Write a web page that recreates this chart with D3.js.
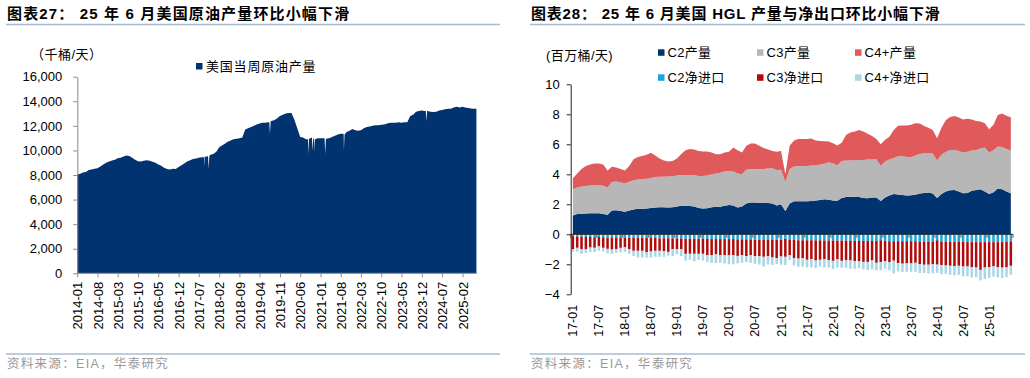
<!DOCTYPE html>
<html><head><meta charset="utf-8">
<script src="https://cdn.jsdelivr.net/npm/d3@7"></script>
<style>
body{margin:0;background:#fff;}
svg{display:block;font-family:"Liberation Sans",Arial,"Noto Sans CJK SC",sans-serif;}
</style></head><body>
<svg id="c" width="1030" height="378"></svg>
<script>
// ---------------- Chart 27 data: US weekly crude output (kb/d) ----------------
const crudeStartMonth = "2014-01";
const crudeMonthly = [
 8050,8100,8200,8250,8400,8450,8500,8550,8700,8850,9000,9100,
 9180,9250,9370,9400,9500,9580,9550,9400,9250,9120,9100,9150,
 9200,9150,9080,9000,8850,8750,8600,8480,8450,8500,8480,8650,
 8800,8960,9100,9200,9300,9350,9400,9450,9500,9520,9650,9700,
 9900,10260,10400,10550,10700,10800,10900,10950,11000,11050,11700,11800,
 11900,12000,12100,12200,12250,12250,12300,12400,12450,12600,12800,12900,
 13000,13050,13050,12500,11800,11100,11050,10900,10950,11050,10900,11000,
 11000,11000,10950,11000,11100,11200,11300,11350,11300,11500,11600,11750,
 11650,11600,11650,11800,11900,11950,12000,12050,12050,12080,12100,12200,
 12250,12250,12250,12300,12250,12300,12300,12800,12900,13150,13200,13250,
 13200,13200,13150,13120,13150,13250,13300,13350,13400,13400,13500,13550,
 13500,13550,13500,13450,13420,13400
];
// single weeks (storm dips with their neighbour weeks, last week)
const crudeWeekDates = [
 "2017-08-25","2017-08-30","2017-09-06",
 "2017-10-06","2017-10-13","2017-10-20",
 "2019-07-12","2019-07-19","2019-07-26",
 "2020-08-21","2020-08-28","2020-09-04",
 "2020-10-02","2020-10-09","2020-10-16",
 "2020-10-23","2020-10-30","2020-11-06",
 "2021-02-12","2021-02-19","2021-02-26",
 "2021-08-27","2021-09-03","2021-09-10",
 "2024-01-12","2024-01-19","2024-01-26",
 "2025-06-27"
];
const crudeWeekValues = [
 9450,8700,9480,
 9520,8500,9550,
 12300,11350,12350,
 10900,9700,10950,
 11050,9990,11000,
 10950,9900,10900,
 11000,9700,10950,
 11350,10000,11300,
 13200,12400,13200,
 13400
];
const crudeXTicks = ["2014-01","2014-08","2015-03","2015-10","2016-05","2016-12","2017-07","2018-02","2018-09","2019-04","2019-11","2020-06","2021-01","2021-08","2022-03","2022-10","2023-05","2023-12","2024-07","2025-02"];
const crudeYTicks = [0,2000,4000,6000,8000,10000,12000,14000,16000];

// ---------------- Chart 28 data: HGL output & net exports (mb/d), monthly 2017-01..2025-06 ----------------
const hglStartMonth = "2017-01";
const c2Prod = [1.25,1.36,1.37,1.38,1.40,1.40,1.40,1.36,1.30,1.58, 1.60,1.55,1.50,1.58,1.66,1.70,1.70,1.72,1.76,1.79,
 1.80,1.80,1.78,1.80,1.86,1.90,1.88,1.88,1.86,1.75, 1.72,1.74,1.80,1.83,1.84,1.90,1.95,1.92,1.78,1.85,
 2.05,2.12,2.12,2.10,2.08,2.08,2.06,1.92,2.00,1.55, 2.05,2.20,2.20,2.20,2.21,2.22,2.25,2.28,2.33,2.30,
 2.25,2.24,2.42,2.48,2.50,2.50,2.48,2.42,2.40,2.45, 2.46,2.22,2.45,2.58,2.68,2.66,2.62,2.58,2.60,2.64,
 2.72,2.76,2.78,2.72,2.42,2.68,2.85,2.94,2.95,2.85, 2.74,2.76,2.90,2.96,3.00,2.85,2.68,2.80,3.06,3.00, 2.85,2.73];
const c3Prod = [1.75,1.76,1.81,1.84,1.85,1.87,1.87,1.88,1.82,1.90, 1.92,1.90,1.90,1.92,1.94,1.95,1.98,1.98,2.00,2.03,
 2.04,2.04,2.07,2.06,2.06,2.06,2.08,2.08,2.08,2.13, 2.16,2.18,2.20,2.22,2.26,2.28,2.27,2.26,2.27,2.15,
 2.25,2.24,2.24,2.26,2.28,2.30,2.34,2.36,2.30,1.95, 2.30,2.32,2.36,2.36,2.35,2.36,2.33,2.37,2.37,2.50,
 2.47,2.36,2.46,2.44,2.42,2.44,2.47,2.54,2.58,2.53, 2.54,2.34,2.40,2.40,2.40,2.54,2.60,2.57,2.55,2.61,
 2.63,2.64,2.62,2.66,2.50,2.62,2.63,2.68,2.67,2.70, 2.71,2.74,2.68,2.66,2.72,2.93,2.77,2.80,2.79,2.82, 2.83,2.85];
const c4Prod = [0.73,0.93,1.17,1.33,1.40,1.45,1.45,1.42,1.13,1.02, 0.93,0.90,0.85,1.05,1.40,1.50,1.54,1.60,1.68,1.43,
 1.21,1.08,1.00,1.02,1.13,1.39,1.64,1.72,1.72,1.67, 1.64,1.60,1.45,1.28,1.23,1.27,1.28,1.60,1.55,1.45,
 1.60,1.69,1.69,1.54,1.39,1.27,1.15,1.22,1.25,0.50, 1.55,1.73,1.79,1.79,1.80,1.80,1.67,1.57,1.50,1.38,
 1.35,1.32,1.22,1.70,1.86,1.91,2.01,1.89,1.72,1.58, 1.35,1.44,1.45,1.52,1.88,2.04,2.03,2.10,2.15,2.15,
 2.03,1.82,1.70,1.57,1.48,1.80,2.12,2.20,2.26,2.23, 2.20,2.20,2.07,1.94,1.80,1.62,1.55,1.70,2.10,2.23, 2.22,2.22];
const c2Net = [-0.12,-0.15,-0.15,-0.18,-0.18,-0.20,-0.18,-0.20,-0.22,-0.22, -0.20,-0.22,-0.22,-0.25,-0.25,-0.25,-0.25,-0.25,-0.25,-0.25,
 -0.27,-0.27,-0.27,-0.27,-0.28,-0.28,-0.30,-0.30,-0.30,-0.30, -0.30,-0.30,-0.32,-0.32,-0.32,-0.32,-0.32,-0.32,-0.34,-0.34,
 -0.35,-0.35,-0.36,-0.36,-0.36,-0.36,-0.36,-0.38,-0.38,-0.30, -0.38,-0.38,-0.40,-0.40,-0.40,-0.40,-0.40,-0.40,-0.42,-0.42,
 -0.42,-0.42,-0.42,-0.42,-0.44,-0.44,-0.44,-0.44,-0.44,-0.44, -0.44,-0.40,-0.44,-0.46,-0.46,-0.46,-0.46,-0.46,-0.46,-0.46,
 -0.48,-0.48,-0.48,-0.48,-0.40,-0.48,-0.48,-0.50,-0.50,-0.50, -0.50,-0.52,-0.52,-0.52,-0.52,-0.52,-0.52,-0.52,-0.52,-0.52, -0.50,-0.48];
const c3Net = [-0.88,-0.75,-0.85,-0.82,-0.70,-0.70,-0.62,-0.70,-0.75,-0.80, -0.78,-0.68,-0.65,-0.75,-0.85,-0.85,-0.85,-0.95,-0.90,-0.85,
 -0.83,-0.85,-0.90,-0.73,-0.72,-0.72,-1.00,-1.00,-1.00,-1.00, -1.00,-1.10,-1.08,-1.00,-1.08,-1.08,-1.08,-1.08,-1.10,-1.06,
 -1.10,-1.05,-1.10,-1.10,-1.14,-1.10,-1.18,-1.20,-1.10,-1.20, -1.00,-1.20,-1.22,-1.20,-1.30,-1.25,-1.35,-1.30,-1.25,-1.30,
 -1.35,-1.25,-1.35,-1.30,-1.30,-1.36,-1.36,-1.40,-1.40,-1.30, -1.46,-1.45,-1.36,-1.40,-1.30,-1.46,-1.50,-1.48,-1.48,-1.44,
 -1.50,-1.55,-1.55,-1.52,-1.62,-1.58,-1.60,-1.60,-1.62,-1.60, -1.65,-1.62,-1.66,-1.70,-1.85,-1.70,-1.68,-1.60,-1.68,-1.70, -1.70,-1.62];
const c4Net = [-0.15,-0.25,-0.30,-0.25,-0.30,-0.28,-0.28,-0.25,-0.30,-0.28, -0.25,-0.30,-0.30,-0.30,-0.35,-0.45,-0.45,-0.35,-0.40,-0.40,
 -0.40,-0.38,-0.25,-0.45,-0.33,-0.45,-0.45,-0.40,-0.50,-0.40, -0.45,-0.45,-0.50,-0.60,-0.50,-0.55,-0.60,-0.60,-0.50,-0.50,
 -0.40,-0.50,-0.50,-0.55,-0.65,-0.55,-0.50,-0.40,-0.55,-0.55, -0.33,-0.50,-0.55,-0.55,-0.50,-0.55,-0.50,-0.45,-0.55,-0.50,
 -0.55,-0.55,-0.45,-0.50,-0.55,-0.50,-0.45,-0.50,-0.55,-0.60, -0.50,-0.55,-0.50,-0.55,-0.85,-0.55,-0.55,-0.56,-0.56,-0.60,
 -0.60,-0.55,-0.58,-0.60,-0.55,-0.60,-0.55,-0.60,-0.62,-0.60, -0.65,-0.66,-0.70,-0.65,-0.70,-0.75,-0.70,-0.70,-0.66,-0.70, -0.65,-0.60];
const hglXTicks = ["17-01","17-07","18-01","18-07","19-01","19-07","20-01","20-07","21-01","21-07","22-01","22-07","23-01","23-07","24-01","24-07","25-01"];
const hglYTicks = [-4,-2,0,2,4,6,8,10];
const hglSeries = ["C2产量","C3产量","C4+产量","C2净进口","C3净进口","C4+净进口"];

// ---------------- drawing ----------------
const svg = d3.select("#c");
const NAVY = "#00336F", GRAY = "#B7B7B7", RED = "#E05A5B", CYAN = "#1AA6DD", DRED = "#B00A0A", LBLUE = "#AAD6E6";
const parse = d3.timeParse("%Y-%m-%d");
const parseM = d3.timeParse("%Y-%m");

function frame(x0, x1, title, source, spacing) {
  svg.append("text").attr("x", x0 + 1).attr("y", 19).attr("font-size", 15).attr("font-weight", "bold")
    .attr("letter-spacing", spacing).attr("fill", "#000").text(title);
  svg.append("line").attr("x1", x0).attr("x2", x1).attr("y1", 24.5).attr("y2", 24.5)
    .attr("stroke", "#A7BCD2").attr("stroke-width", 1.5);
  svg.append("line").attr("x1", x0).attr("x2", x1).attr("y1", 354).attr("y2", 354)
    .attr("stroke", "#A7BCD2").attr("stroke-width", 1.5);
  svg.append("text").attr("x", x0 + 1).attr("y", 368).attr("font-size", 12.5).attr("letter-spacing", 1.3)
    .attr("fill", "#999").text(source);
}
frame(6, 500, "图表27： 25 年 6 月美国原油产量环比小幅下滑", "资料来源：EIA，华泰研究", 1.15);
frame(530, 1025, "图表28： 25 年 6 月美国 HGL 产量与净出口环比小幅下滑", "资料来源：EIA，华泰研究", 0.8);

// ===== chart 27 =====
{
  const start = parseM(crudeStartMonth);
  const pts = crudeMonthly.map((v, i) => ({ date: d3.timeMonth.offset(start, i), value: v }));
  crudeWeekDates.forEach((d, i) => pts.push({ date: parse(d), value: crudeWeekValues[i] }));
  pts.sort((a, b) => a.date - b.date);

  const x = d3.scaleTime().domain([start, d3.timeMonth.offset(start, 138)]).range([77.3, 476.8]);
  const y = d3.scaleLinear().domain([0, 16000]).range([273.3, 76.7]);

  svg.append("path").datum(pts).attr("fill", NAVY)
    .attr("d", d3.area().x(d => x(d.date)).y0(y(0)).y1(d => y(d.value)));

  const ya = svg.append("g").attr("transform", "translate(77.3,0)")
    .call(d3.axisLeft(y).tickValues(crudeYTicks).tickFormat(d3.format(",")).tickSize(4).tickSizeOuter(0).tickPadding(11));
  ya.selectAll("text").attr("font-size", 13).attr("fill", "#000").attr("font-family", null);
  ya.selectAll("path,line").attr("stroke", "#8A8A8A");

  const xa = svg.append("g").attr("transform", "translate(0,273.3)")
    .call(d3.axisBottom(x).tickValues(crudeXTicks.map(parseM)).tickFormat(d3.timeFormat("%Y-%m")).tickSize(4).tickSizeOuter(0));
  xa.selectAll("text").attr("font-size", 13).attr("fill", "#000").attr("font-family", null)
    .attr("transform", "rotate(-90)").attr("x", -8.5).attr("y", 0).attr("dy", "0.36em").style("text-anchor", "end");
  xa.selectAll("path,line").attr("stroke", "#8A8A8A");
  xa.select(".domain").attr("d", "M77.3,0H476.8");

  svg.append("text").attr("x", 31).attr("y", 58.5).attr("font-size", 13).attr("letter-spacing", 0.5).text("（千桶/天）");
  svg.append("rect").attr("x", 196).attr("y", 63).attr("width", 6.5).attr("height", 6.5).attr("fill", NAVY);
  svg.append("text").attr("x", 206).attr("y", 70.5).attr("font-size", 13).attr("letter-spacing", 0.8).text("美国当周原油产量");
}

// ===== chart 28 =====
{
  const n = c2Prod.length;
  const rows = d3.range(n).map(i => ({ i, c2: c2Prod[i], c3: c3Prod[i], c4: c4Prod[i], n2: c2Net[i], n3: c3Net[i], n4: c4Net[i] }));
  const x = d3.scaleBand().domain(d3.range(n)).range([570.7, 1013]).paddingInner(0.42).paddingOuter(0.21);
  const y = d3.scaleLinear().domain([-4, 10]).range([294.3, 84.3]);
  const cx = i => x(i) + x.bandwidth() / 2;

  const pos = d3.stack().keys(["c2", "c3", "c4"])(rows);
  const posCol = [NAVY, GRAY, RED];
  svg.append("g").selectAll("path").data(pos).join("path")
    .attr("fill", (d, k) => posCol[k])
    .attr("d", d3.area().x(d => cx(d.data.i)).y0(d => y(d[0])).y1(d => y(d[1])));

  const neg = d3.stack().keys(["n2", "n3", "n4"]).offset(d3.stackOffsetDiverging)(rows);
  const negCol = [CYAN, DRED, LBLUE];
  svg.append("g").selectAll("g").data(neg).join("g").attr("fill", (d, k) => negCol[k])
    .selectAll("rect").data(d => d).join("rect")
    .attr("x", d => x(d.data.i)).attr("width", x.bandwidth())
    .attr("y", d => y(Math.max(d[0], d[1]))).attr("height", d => Math.abs(y(d[0]) - y(d[1])));

  // category axis at zero
  svg.append("line").attr("x1", 570.7).attr("x2", 1013).attr("y1", y(0)).attr("y2", y(0)).attr("stroke", "#222").attr("stroke-width", 1);
  const step = x.step();
  d3.range(0, n + 1, 6).forEach(k => {
    const bx = 570.7 + k * step;
    svg.append("line").attr("x1", bx).attr("x2", bx).attr("y1", y(0)).attr("y2", y(0) + 3.5).attr("stroke", "#555");
  });

  const ya = svg.append("g").attr("transform", "translate(570.7,0)")
    .call(d3.axisLeft(y).tickValues(hglYTicks).tickSize(4).tickSizeOuter(0).tickPadding(7));
  ya.selectAll("text").attr("font-size", 13).attr("fill", "#000").attr("font-family", null);
  ya.selectAll("path,line").attr("stroke", "#222");

  const tickIdx = hglXTicks.map((t, k) => k * 6);
  const xa = svg.append("g").attr("transform", `translate(0,${y(-4)})`)
    .call(d3.axisBottom(x).tickValues(tickIdx).tickFormat((d, k) => hglXTicks[k]).tickSize(0));
  xa.select(".domain").remove();
  xa.selectAll("text").attr("font-size", 12.5).attr("fill", "#000").attr("font-family", null)
    .attr("transform", "rotate(-90)").attr("x", -10.5).attr("y", 0).attr("dy", "0.36em").style("text-anchor", "end");

  svg.append("text").attr("x", 546).attr("y", 60).attr("font-size", 13).attr("letter-spacing", 0.4).text("(百万桶/天)");
  const legCol = [NAVY, GRAY, RED, CYAN, DRED, LBLUE];
  const legX = [658, 757, 855];
  hglSeries.forEach((s, k) => {
    const lx = legX[k % 3], ly = k < 3 ? 49.3 : 74.3;
    svg.append("rect").attr("x", lx).attr("y", ly).attr("width", 6.5).attr("height", 6.5).attr("fill", legCol[k]);
    svg.append("text").attr("x", lx + 9.5).attr("y", ly + 7.3).attr("font-size", 13).attr("letter-spacing", 0.3).text(s);
  });
}
</script>
</body></html>
